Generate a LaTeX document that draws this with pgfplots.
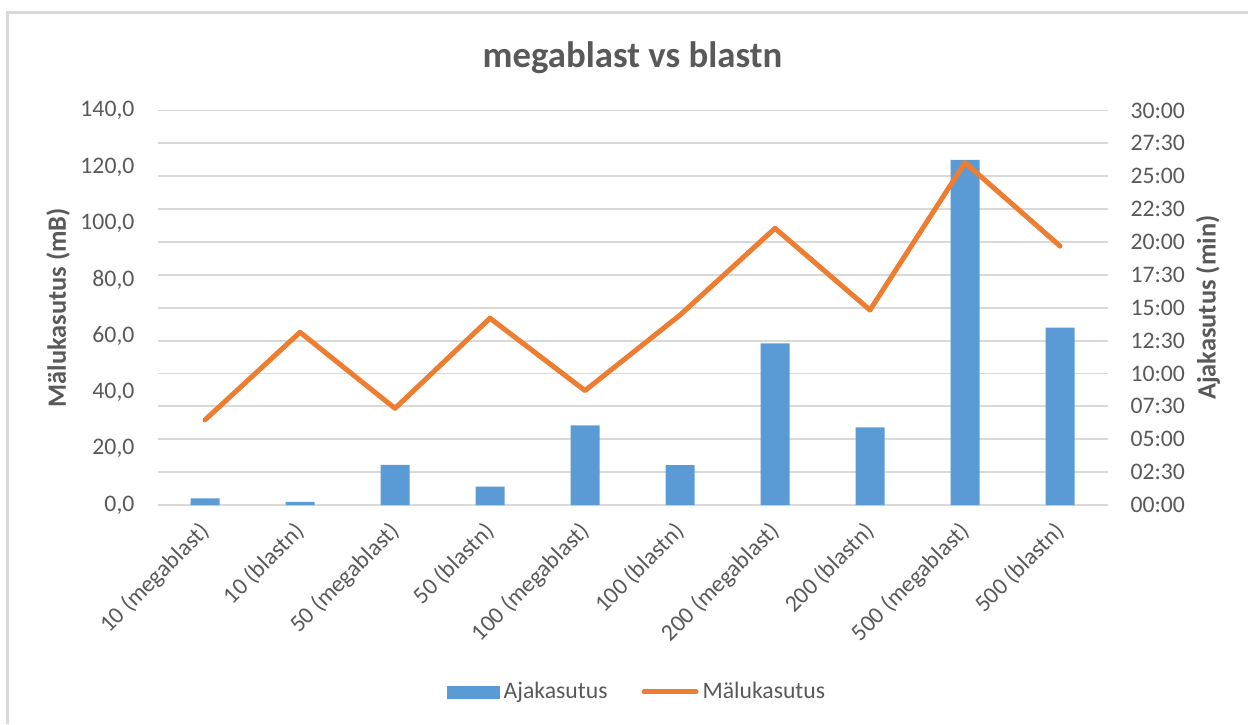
\documentclass[border=0pt]{standalone}
\usepackage{fontspec}
\setmainfont{Carlito}
\usepackage{pgfplots}
\pgfplotsset{compat=1.18}
\definecolor{barblue}{HTML}{5B9BD5}
\definecolor{lineorange}{HTML}{ED7D31}
\definecolor{txtgray}{HTML}{595959}
\definecolor{gridgray}{HTML}{D9D9D9}
\newcommand{\tickfont}{\fontsize{11.85}{14}\selectfont}
\begin{document}
\begin{tikzpicture}
\useasboundingbox (0,0) rectangle (624pt,362pt);
\draw[gridgray, line width=1.5pt] (3.5pt,0pt) -- (3.5pt,355.75pt) -- (624pt,355.75pt);
\node[text=txtgray, font=\fontsize{18.4}{22}\selectfont\bfseries] at (316.25pt,333pt) {megablast vs blastn};
% axis with bars (right axis, minutes)
\begin{axis}[
  at={(78.75pt,109.5pt)}, anchor=south west,
  scale only axis, width=475pt, height=197.25pt,
  xmin=-0.5, xmax=9.5, ymin=0, ymax=30,
  axis x line*=bottom, axis y line*=right,
  x axis line style={draw=gridgray, line width=0.9pt, -},
  y axis line style={draw=none},
  major tick length=0pt,
  ytick={0,2.5,5,7.5,10,12.5,15,17.5,20,22.5,25,27.5,30},
  yticklabels={00:00,02:30,05:00,07:30,10:00,12:30,15:00,17:30,20:00,22:30,25:00,27:30,30:00},
  ymajorgrids, grid style={gridgray, line width=0.9pt},
  xtick={0,1,2,3,4,5,6,7,8,9},
  xticklabels={10 (megablast),10 (blastn),50 (megablast),50 (blastn),100 (megablast),100 (blastn),200 (megablast),200 (blastn),500 (megablast),500 (blastn)},
  xticklabel style={rotate=45, anchor=north east, font=\tickfont, text=txtgray, inner sep=1pt, xshift=-6.7pt, yshift=-1.8pt},
  yticklabel style={font=\tickfont, text=txtgray, anchor=west, xshift=8pt},
  ylabel={Ajakasutus (min)},
  ylabel style={at={(rel axis cs:1,0.5)}, anchor=center, yshift=-50.25pt, font=\fontsize{13.2}{16}\selectfont\bfseries, text=txtgray},
  ybar, bar width=14.5pt,
]
\addplot[fill=barblue, draw=none] coordinates {
 (0,0.51) (1,0.23) (2,3.06) (3,1.39) (4,6.06) (5,3.04) (6,12.30) (7,5.91) (8,26.24) (9,13.48)};
\end{axis}
% axis with line (left axis, mB)
\begin{axis}[
  at={(78.75pt,109.5pt)}, anchor=south west,
  scale only axis, width=475pt, height=197.25pt,
  xmin=-0.5, xmax=9.5, ymin=0, ymax=140,
  axis x line=none, axis y line*=left,
  y axis line style={draw=none},
  major tick length=0pt,
  ytick={0,20,40,60,80,100,120,140},
  yticklabels={{0,0},{20,0},{40,0},{60,0},{80,0},{100,0},{120,0},{140,0}},
  yticklabel style={font=\tickfont, text=txtgray, anchor=east, xshift=-8pt},
  ylabel={Mälukasutus (mB)},
  ylabel style={at={(rel axis cs:0,0.5)}, anchor=center, yshift=49.75pt, font=\fontsize{13.2}{16}\selectfont\bfseries, text=txtgray},
  legend style={at={(0.5058,-0.474)}, anchor=center, draw=none, fill=none,
    legend columns=2, font=\tickfont, text=txtgray,
    /tikz/every even column/.append style={column sep=15pt},
    legend cell align=left, inner sep=0pt},
]
\addlegendimage{legend image code/.code={\fill[barblue] (0pt,-3pt) rectangle (26pt,3pt);}}
\addlegendentry{Ajakasutus}
\addplot[lineorange, line width=2.5pt, line join=round, line cap=round,
  legend image code/.code={\draw[lineorange, line width=2.5pt, line cap=round] (0pt,0pt) -- (26pt,0pt);}]
 coordinates {
 (0,30.2) (1,61.3) (2,34.3) (3,66.3) (4,40.6) (5,67.4) (6,98.2) (7,69.2) (8,121.5) (9,91.9)};
\addlegendentry{Mälukasutus}
\end{axis}
\end{tikzpicture}
\end{document}
